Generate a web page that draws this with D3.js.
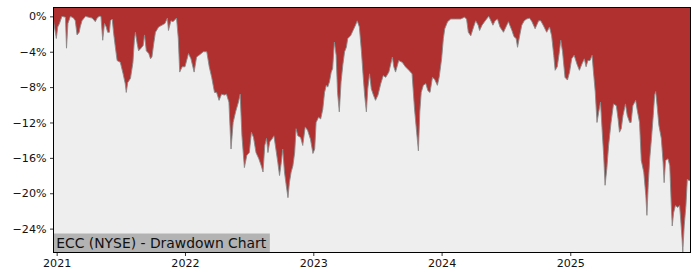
<!DOCTYPE html>
<html>
<head>
<meta charset="utf-8">
<script src="https://cdn.jsdelivr.net/npm/d3@7"></script>
<style>
  body { margin: 0; background: #fff; }
  svg { display: block; font-family: "DejaVu Sans", sans-serif; }
</style>
</head>
<body>
<svg id="chart" width="700" height="280"></svg>
<script>
const title = 'ECC (NYSE) - Drawdown Chart';
const xStart = '2020-12-23';
const xEnd = '2025-12-09';
const yMin = -26.7;
const yMax = 1.0;
const yTicks = [0, -4, -8, -12, -16, -20, -24];
const xTickYears = ['2021', '2022', '2023', '2024', '2025'];

// drawdown in %
const points = [
  ['2020-12-23', -0.5], ['2020-12-31', -2.5], ['2021-01-04', -1.2], ['2021-01-09', -0.8],
  ['2021-01-16', 0], ['2021-01-26', -0.1], ['2021-01-29', -3.6], ['2021-02-02', -0.8],
  ['2021-02-09', 0], ['2021-02-18', -0.2], ['2021-02-23', -0.5], ['2021-02-28', -2.1],
  ['2021-03-06', -1.8], ['2021-03-09', -1.2], ['2021-03-14', -0.5], ['2021-03-24', 0],
  ['2021-04-02', -0.1], ['2021-04-12', -0.2], ['2021-04-21', -0.6], ['2021-04-26', -0.2],
  ['2021-05-02', 0], ['2021-05-07', 0], ['2021-05-12', -2.7], ['2021-05-17', -0.8],
  ['2021-05-22', -1.2], ['2021-05-26', -1.8], ['2021-05-31', -1.8], ['2021-06-03', -0.5],
  ['2021-06-08', -0.3], ['2021-06-12', -1.9], ['2021-06-17', -3.5], ['2021-06-22', -5.0],
  ['2021-07-01', -5.2], ['2021-07-09', -6.5], ['2021-07-15', -7.6], ['2021-07-18', -8.6],
  ['2021-07-22', -7.5], ['2021-07-30', -7.0], ['2021-08-06', -5.2], ['2021-08-10', -2.7],
  ['2021-08-13', -1.8], ['2021-08-18', -3.1], ['2021-08-22', -3.9], ['2021-08-29', -3.6],
  ['2021-09-04', -3.3], ['2021-09-08', -2.1], ['2021-09-13', -3.9], ['2021-09-20', -4.2],
  ['2021-09-25', -4.8], ['2021-09-29', -4.6], ['2021-10-04', -3.1], ['2021-10-09', -1.8],
  ['2021-10-18', -1.2], ['2021-11-01', -0.9], ['2021-11-05', -0.8], ['2021-11-12', -0.2],
  ['2021-11-15', -1.6], ['2021-11-22', -0.5], ['2021-11-28', -0.6], ['2021-12-08', -0.2],
  ['2021-12-13', -2.5], ['2021-12-17', -6.3], ['2021-12-24', -5.7], ['2022-01-01', -5.7],
  ['2022-01-11', -4.2], ['2022-01-18', -4.8], ['2022-01-27', -6.3], ['2022-02-03', -4.6],
  ['2022-02-13', -4.3], ['2022-02-22', -4.0], ['2022-03-04', -4.0], ['2022-03-11', -5.7],
  ['2022-03-18', -6.9], ['2022-03-26', -8.6], ['2022-04-01', -8.6], ['2022-04-08', -9.5],
  ['2022-04-15', -8.8], ['2022-04-23', -8.9], ['2022-04-29', -8.8], ['2022-05-06', -9.7],
  ['2022-05-12', -15.0], ['2022-05-18', -12.0], ['2022-05-25', -10.8], ['2022-06-02', -9.7],
  ['2022-06-07', -8.8], ['2022-06-12', -13.5], ['2022-06-19', -17.1], ['2022-06-26', -15.7],
  ['2022-07-03', -15.4], ['2022-07-09', -13.1], ['2022-07-15', -13.7], ['2022-07-22', -15.4],
  ['2022-07-30', -16.1], ['2022-08-06', -16.9], ['2022-08-11', -17.6], ['2022-08-16', -14.6],
  ['2022-08-21', -13.8], ['2022-08-25', -15.4], ['2022-08-30', -14.2], ['2022-09-05', -13.9],
  ['2022-09-11', -13.5], ['2022-09-18', -15.4], ['2022-09-22', -16.5], ['2022-09-27', -18.0],
  ['2022-10-02', -16.5], ['2022-10-06', -15.0], ['2022-10-11', -17.6], ['2022-10-16', -19.1],
  ['2022-10-21', -20.5], ['2022-10-25', -18.8], ['2022-10-30', -17.6], ['2022-11-04', -16.9],
  ['2022-11-09', -15.4], ['2022-11-13', -12.7], ['2022-11-18', -13.5], ['2022-11-26', -13.7],
  ['2022-12-02', -14.6], ['2022-12-09', -12.5], ['2022-12-16', -12.9], ['2022-12-24', -13.9],
  ['2022-12-31', -15.5], ['2023-01-05', -15.0], ['2023-01-09', -12.0], ['2023-01-16', -11.4],
  ['2023-01-22', -11.6], ['2023-01-28', -10.5], ['2023-02-02', -8.6], ['2023-02-07', -7.8],
  ['2023-02-11', -8.0], ['2023-02-16', -7.4], ['2023-02-21', -6.3], ['2023-02-25', -5.9],
  ['2023-03-02', -2.9], ['2023-03-07', -4.4], ['2023-03-11', -8.6], ['2023-03-16', -10.8],
  ['2023-03-21', -7.4], ['2023-03-26', -5.5], ['2023-03-31', -4.0], ['2023-04-05', -3.5],
  ['2023-04-09', -2.5], ['2023-04-17', -2.2], ['2023-04-24', -1.6], ['2023-05-01', -1.0],
  ['2023-05-06', -0.5], ['2023-05-12', -1.2], ['2023-05-18', -4.0], ['2023-05-22', -6.3],
  ['2023-05-27', -8.9], ['2023-06-01', -10.8], ['2023-06-05', -8.2], ['2023-06-10', -6.5],
  ['2023-06-15', -8.2], ['2023-06-21', -8.9], ['2023-06-27', -9.5], ['2023-07-04', -8.9],
  ['2023-07-12', -7.6], ['2023-07-19', -6.7], ['2023-07-26', -6.9], ['2023-08-04', -6.3],
  ['2023-08-14', -4.6], ['2023-08-18', -5.7], ['2023-08-23', -6.3], ['2023-09-01', -5.0],
  ['2023-09-11', -5.2], ['2023-09-20', -5.7], ['2023-09-30', -6.1], ['2023-10-09', -6.5],
  ['2023-10-16', -10.5], ['2023-10-22', -13.1], ['2023-10-27', -15.2], ['2023-10-31', -10.8],
  ['2023-11-04', -8.6], ['2023-11-10', -7.8], ['2023-11-17', -7.6], ['2023-11-23', -8.4],
  ['2023-11-29', -8.6], ['2023-12-06', -6.9], ['2023-12-12', -7.1], ['2023-12-20', -7.8],
  ['2023-12-25', -6.9], ['2024-01-01', -4.8], ['2024-01-06', -2.5], ['2024-01-10', -1.4],
  ['2024-01-18', -0.6], ['2024-01-27', -0.3], ['2024-02-10', -0.3], ['2024-02-24', -0.3],
  ['2024-03-06', -0.1], ['2024-03-12', -0.3], ['2024-03-17', -1.8], ['2024-03-24', -2.2],
  ['2024-04-01', -1.2], ['2024-04-07', -0.5], ['2024-04-14', -1.0], ['2024-04-18', -1.6],
  ['2024-04-25', -1.0], ['2024-05-04', -0.5], ['2024-05-14', 0], ['2024-05-18', -0.3],
  ['2024-05-26', -1.0], ['2024-06-01', -0.5], ['2024-06-08', -0.3], ['2024-06-15', -1.2],
  ['2024-06-25', -1.8], ['2024-07-02', -1.2], ['2024-07-09', -0.6], ['2024-07-19', -1.6],
  ['2024-07-25', -2.3], ['2024-07-31', -2.5], ['2024-08-04', -3.5], ['2024-08-10', -2.2],
  ['2024-08-16', -1.0], ['2024-08-23', -0.5], ['2024-08-30', -0.3], ['2024-09-07', -0.2],
  ['2024-09-14', -0.6], ['2024-09-23', -1.4], ['2024-10-03', -0.5], ['2024-10-09', -0.5],
  ['2024-10-16', -1.0], ['2024-10-26', -1.8], ['2024-11-03', -1.2], ['2024-11-09', -2.2],
  ['2024-11-15', -4.4], ['2024-11-19', -6.1], ['2024-11-25', -5.7], ['2024-12-01', -4.0],
  ['2024-12-05', -2.7], ['2024-12-10', -4.0], ['2024-12-17', -6.9], ['2024-12-24', -7.2],
  ['2024-12-30', -6.3], ['2025-01-05', -4.8], ['2025-01-12', -4.4], ['2025-01-20', -5.4],
  ['2025-01-27', -6.1], ['2025-02-03', -5.4], ['2025-02-10', -4.8], ['2025-02-15', -5.7],
  ['2025-02-20', -5.0], ['2025-02-26', -5.0], ['2025-03-04', -4.4], ['2025-03-08', -6.3],
  ['2025-03-13', -8.5], ['2025-03-18', -12.0], ['2025-03-23', -10.8], ['2025-03-28', -9.7],
  ['2025-04-02', -13.1], ['2025-04-06', -15.7], ['2025-04-10', -19.1], ['2025-04-15', -17.2],
  ['2025-04-20', -14.6], ['2025-04-27', -12.0], ['2025-05-04', -9.9], ['2025-05-12', -10.1],
  ['2025-05-17', -11.6], ['2025-05-21', -13.1], ['2025-05-26', -12.7], ['2025-05-31', -11.2],
  ['2025-06-07', -9.9], ['2025-06-12', -11.2], ['2025-06-19', -12.0], ['2025-06-23', -12.0],
  ['2025-06-28', -10.1], ['2025-07-06', -9.5], ['2025-07-10', -10.5], ['2025-07-17', -12.0],
  ['2025-07-22', -16.3], ['2025-07-29', -17.6], ['2025-08-04', -20.3], ['2025-08-07', -22.5],
  ['2025-08-11', -18.8], ['2025-08-15', -16.1], ['2025-08-20', -13.8], ['2025-08-25', -11.2],
  ['2025-08-29', -8.9], ['2025-09-01', -8.5], ['2025-09-05', -10.1], ['2025-09-10', -12.3],
  ['2025-09-17', -13.8], ['2025-09-22', -16.5], ['2025-09-25', -18.8], ['2025-09-29', -16.3],
  ['2025-10-06', -16.1], ['2025-10-11', -16.9], ['2025-10-15', -21.0], ['2025-10-18', -23.7],
  ['2025-10-22', -22.2], ['2025-10-27', -21.4], ['2025-11-03', -21.6], ['2025-11-08', -21.4],
  ['2025-11-11', -22.9], ['2025-11-15', -25.2], ['2025-11-17', -26.7], ['2025-11-21', -23.7],
  ['2025-11-26', -21.4], ['2025-11-30', -18.4], ['2025-12-05', -18.6], ['2025-12-09', -18.5]
];

const parseDate = d3.timeParse('%Y-%m-%d');
const data = points.map(([d, v]) => ({ date: parseDate(d), value: v }));

const plot = { left: 53.5, right: 690.5, top: 7.5, bottom: 252.5 };

const svg = d3.select('#chart');

const x = d3.scaleTime()
  .domain([parseDate(xStart), parseDate(xEnd)])
  .range([plot.left, plot.right]);

const y = d3.scaleLinear()
  .domain([yMin, yMax])
  .range([plot.bottom, plot.top]);

svg.append('defs')
  .append('clipPath')
  .attr('id', 'plot-clip')
  .append('rect')
  .attr('x', plot.left)
  .attr('y', plot.top)
  .attr('width', plot.right - plot.left)
  .attr('height', plot.bottom - plot.top);

// light background under the curve
svg.append('rect')
  .attr('x', plot.left)
  .attr('y', plot.top)
  .attr('width', plot.right - plot.left)
  .attr('height', plot.bottom - plot.top)
  .attr('fill', '#eeeeee');

const g = svg.append('g').attr('clip-path', 'url(#plot-clip)');

const area = d3.area()
  .x((d) => x(d.date))
  .y0(y(yMax))
  .y1((d) => y(d.value));

g.append('path')
  .datum(data)
  .attr('fill', '#b03030')
  .attr('d', area);

g.append('path')
  .datum(data)
  .attr('fill', 'none')
  .attr('stroke', '#8a8a8a')
  .attr('stroke-width', 0.9)
  .attr('d', d3.line().x((d) => x(d.date)).y((d) => y(d.value)));

// title label in the lower left corner
const label = svg.append('g');
const labelRect = label.append('rect').attr('fill', '#b3b3b3');
const labelText = label.append('text')
  .attr('x', plot.left + 2.7)
  .attr('y', 247.5)
  .attr('font-size', 13.9)
  .attr('fill', '#111')
  .text(title);
const box = labelText.node().getBBox();
labelRect
  .attr('x', plot.left)
  .attr('y', 233.5)
  .attr('width', box.x + box.width + 3 - plot.left)
  .attr('height', plot.bottom - 233.5);

// axes
const fmtPct = (d) => (d < 0 ? '\u2212' : '') + Math.abs(d) + '%';

const yAxis = svg.append('g')
  .attr('transform', `translate(${plot.left},0)`)
  .call(d3.axisLeft(y).tickValues(yTicks).tickSize(3.5).tickPadding(3.5).tickFormat(fmtPct));

const xAxis = svg.append('g')
  .attr('transform', `translate(0,${plot.bottom})`)
  .call(d3.axisBottom(x)
    .tickValues(xTickYears.map((yr) => parseDate(`${yr}-01-01`)))
    .tickSize(3.5)
    .tickPadding(3.5)
    .tickFormat(d3.timeFormat('%Y')));

[yAxis, xAxis].forEach((ax) => {
  ax.select('.domain').remove();
  ax.selectAll('text').attr('font-size', 11.1).attr('fill', '#111').attr('font-family', '"DejaVu Sans", sans-serif');
  ax.selectAll('line').attr('stroke', '#000').attr('stroke-width', 0.8);
});

// frame
svg.append('rect')
  .attr('x', plot.left)
  .attr('y', plot.top)
  .attr('width', plot.right - plot.left)
  .attr('height', plot.bottom - plot.top)
  .attr('fill', 'none')
  .attr('stroke', '#000')
  .attr('stroke-width', 1);
</script>
</body>
</html>
